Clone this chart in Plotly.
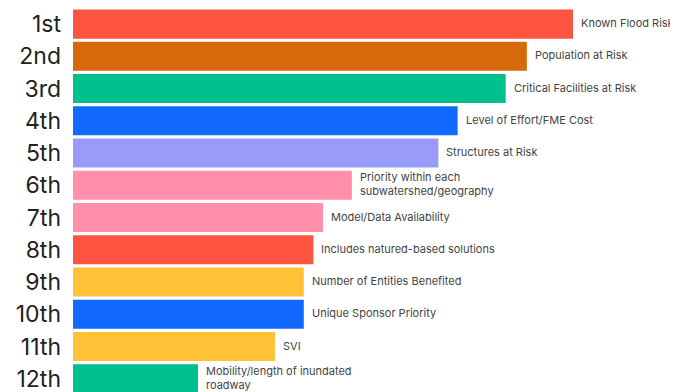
import plotly.graph_objects as go

ranks = ["1st", "2nd", "3rd", "4th", "5th", "6th", "7th", "8th", "9th", "10th", "11th", "12th"]
criteria = [
    "Known Flood Risk",
    "Population at Risk",
    "Critical Facilities at Risk",
    "Level of Effort/FME Cost",
    "Structures at Risk",
    "Priority within each<br>subwatershed/geography",
    "Model/Data Availability",
    "Includes natured-based solutions",
    "Number of Entities Benefited",
    "Unique Sponsor Priority",
    "SVI",
    "Mobility/length of inundated<br>roadway",
]
scores = [260, 236, 225, 200, 190, 145, 130, 125, 120, 120, 105, 65]
colors = ["#FF5540", "#D5690B", "#00C08F", "#1169FF", "#989CF8", "#FF8FAB",
          "#FF8FAB", "#FF5540", "#FFC136", "#1169FF", "#FFC136", "#00C08F"]

fig = go.Figure(go.Bar(
    x=scores,
    y=ranks,
    orientation="h",
    marker=dict(color=colors, line=dict(width=0)),
    hoverinfo="skip",
))

# labels to the right of each bar, left aligned
for r, c, s in zip(ranks, criteria, scores):
    fig.add_annotation(x=s, y=r, text=c, showarrow=False, xanchor="left",
                       align="left", xshift=6, yshift=1,
                       font=dict(size=11, color="#444444", family="Inter"))

# page body has an 8px margin, so the figure is a bit smaller than the window
fig.update_layout(
    width=670, height=384,
    margin=dict(l=65, r=0, t=0, b=0),
    paper_bgcolor="white", plot_bgcolor="white",
    bargap=0.1,
    showlegend=False,
    font=dict(family="Inter"),
)
fig.update_xaxes(range=[0, 314.6], visible=False, automargin=False)
fig.update_yaxes(range=[11.41, -0.5], showgrid=False, zeroline=False,
                 automargin=False,
                 tickfont=dict(size=23, color="#222222", family="Inter"),
                 ticklabelstandoff=11)

fig.write_html("out.html")
